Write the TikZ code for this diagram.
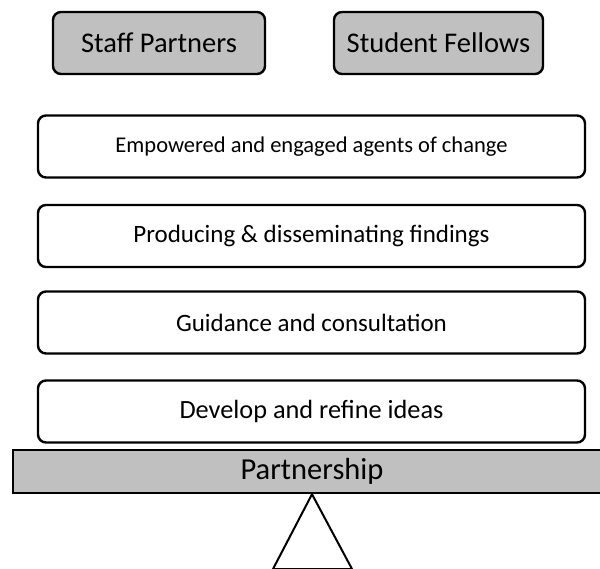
\documentclass[tikz,border=0pt]{standalone}
\usepackage{fontspec}
\setmainfont{Carlito}
\usepackage{tikz}
\usetikzlibrary{positioning}

\definecolor{barfill}{RGB}{192,192,192}
\tikzset{
  tier/.style={draw, line width=2.4pt, rounded corners=8pt, fill=white,
    minimum width=547pt, minimum height=62pt, inner sep=0pt},
  party/.style={tier, fill=barfill, minimum height=62pt, font=\fontsize{28.5}{31}\selectfont},
}

\begin{document}
\begin{tikzpicture}[x=1pt, y=-1pt]
  \useasboundingbox (0,0) rectangle (600,569);
  \node[party, minimum width=212pt] (staff) at (159,43)   {Staff Partners};
  \node[party, minimum width=209pt] (fellow) at (438.5,43) {Student Fellows};
  \node[tier, font=\fontsize{22.5}{26}\selectfont] (agents)  at (311.5,146.5) {Empowered and engaged agents of change};
  \node[tier, font=\fontsize{25}{28}\selectfont] (finding) at (311.5,236)   {Producing \& disseminating findings};
  \node[tier, font=\fontsize{25}{28}\selectfont] (guide)   at (311.5,322.5) {Guidance and consultation};
  \node[tier, font=\fontsize{26.3}{29}\selectfont] (ideas)   at (311.5,411.5) {Develop and refine ideas};
  \node[draw, line width=2.4pt, fill=barfill, minimum width=598pt, minimum height=43pt,
    inner sep=0pt, font=\fontsize{30.5}{33}\selectfont] (bar) at (312,471.5) {Partnership};
  \coordinate (footl) at (273,569);
  \coordinate (footr) at (352,569);
  \draw[line width=2pt, line join=miter] (bar.south) -- (footl) -- (footr) -- cycle;
\end{tikzpicture}
\end{document}
